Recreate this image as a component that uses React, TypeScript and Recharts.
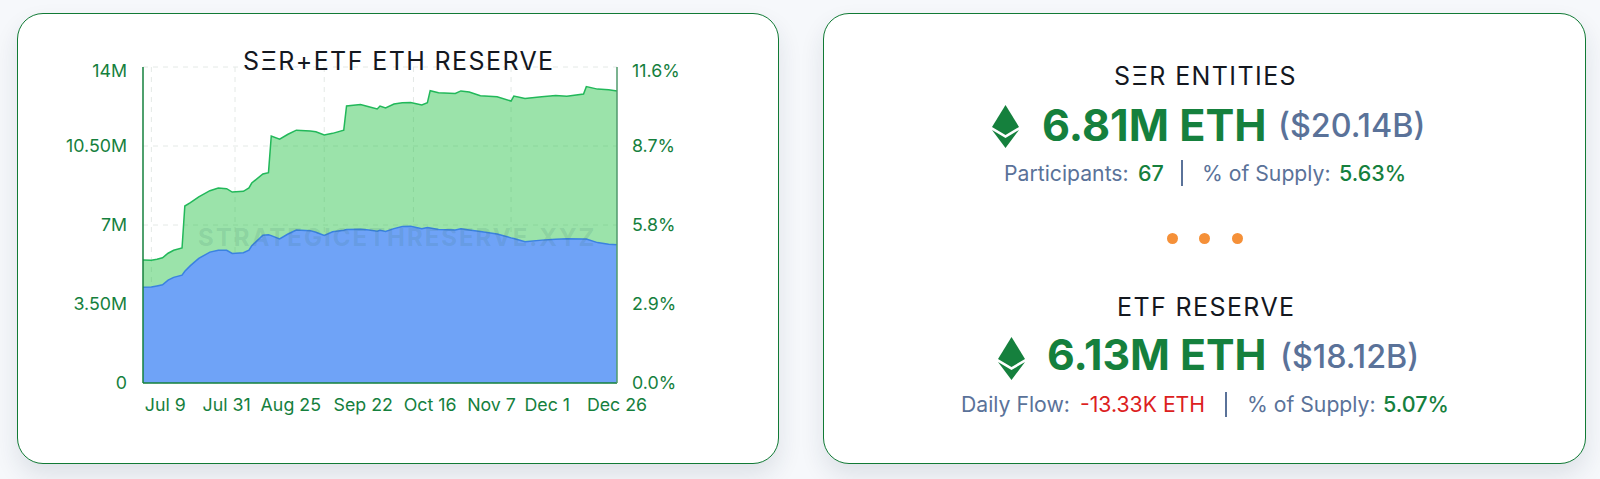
import { AreaChart, Area, XAxis, YAxis, CartesianGrid } from "recharts";

// days since the start of the range (Jul 2 -> Dec 26)
const dayIndex = [
  0, 3, 5, 7, 9, 11, 14, 15, 17, 20, 24, 27, 30, 32, 36, 38, 39, 43, 45, 46, 49, 52, 55, 60, 62, 65, 68, 72, 73, 78,
  81, 84, 85, 87, 90, 93, 96, 100, 102, 103, 106, 112, 114, 117, 121, 127, 132, 133, 137, 143, 148, 152, 158, 159,
  163, 167, 170,
];
// SER + ETF combined, in millions of ETH
const combinedReserve = [
  5.45, 5.44, 5.48, 5.55, 5.75, 5.88, 5.98, 7.84, 7.99, 8.25, 8.52, 8.64, 8.61, 8.46, 8.49, 8.64, 8.86, 9.26, 9.32,
  10.94, 10.8, 11.02, 11.2, 11.16, 11.13, 10.99, 11.06, 11.2, 12.27, 12.34, 12.24, 12.14, 12.27, 12.19, 12.36, 12.42,
  12.43, 12.32, 12.42, 12.95, 12.86, 12.83, 12.94, 12.89, 12.73, 12.68, 12.49, 12.71, 12.61, 12.68, 12.74, 12.7, 12.8,
  13.13, 13.02, 12.99, 12.94,
];
const etfReserve = [
  4.24, 4.25, 4.3, 4.35, 4.56, 4.68, 4.78, 4.95, 5.2, 5.52, 5.8, 5.88, 5.88, 5.74, 5.77, 5.89, 6.08, 6.55, 6.57, 6.53,
  6.38, 6.6, 6.78, 6.75, 6.68, 6.54, 6.7, 6.77, 6.8, 6.81, 6.78, 6.72, 6.77, 6.71, 6.84, 6.93, 6.94, 6.84, 6.89, 6.87,
  6.8, 6.78, 6.83, 6.78, 6.71, 6.6, 6.43, 6.4, 6.26, 6.33, 6.37, 6.39, 6.38, 6.38, 6.22, 6.15, 6.13,
];

const xTickDays = [8, 30, 53, 79, 103, 125, 145, 170];
const xTickLabels = ["Jul 9", "Jul 31", "Aug 25", "Sep 22", "Oct 16", "Nov 7", "Dec 1", "Dec 26"];
const gridDays = [3, 33, 65, 97, 132];
const yTicks = [0, 3.5, 7, 10.5, 14];
const yLabels = ["0", "3.50M", "7M", "10.50M", "14M"];
const pctTicks = [0, 2.9, 5.8, 8.7, 11.6];

const chartData = dayIndex.map((day, i) => ({
  day,
  combined: combinedReserve[i],
  etf: etfReserve[i],
  supplyPct: (combinedReserve[i] / 14) * 11.6, // same curve on the right hand scale
}));

const GREEN = "#15803d";
const SLATE = "#5a7299";
const INK = "#14181f";
const FONT = "Inter, sans-serif";
const TICK_SIZE = 17.8;

// top labels sit a little below their tick in the original
function yTick(top: number, format: (v: number) => string) {
  return ({ x, y, payload, textAnchor }: any) => (
    <text
      x={x}
      y={y + (payload.value === top ? 4 : 0)}
      dy="0.355em"
      textAnchor={textAnchor}
      fill={GREEN}
      fontSize={TICK_SIZE}
      fontFamily={FONT}
    >
      {format(payload.value)}
    </text>
  );
}

function Label({ left, cy, size, color, weight = 400, spacing = 0, children }: any) {
  return (
    <div
      style={{
        position: "absolute",
        left,
        top: cy - 30,
        height: 60,
        lineHeight: "60px",
        fontSize: size,
        fontWeight: weight,
        color,
        letterSpacing: spacing,
        whiteSpace: "nowrap",
        fontFamily: FONT,
      }}
    >
      {children}
    </div>
  );
}

function EthIcon({ left, top }: { left: number; top: number }) {
  return (
    <svg style={{ position: "absolute", left, top }} width={27} height={43} viewBox="0 0 27 43">
      <polygon points="13.5,0 27,22 13.5,30 0,22" fill={GREEN} />
      <polygon points="0,25 13.5,33 27,25 13.5,43" fill={GREEN} />
    </svg>
  );
}

function Divider({ left, top, height }: { left: number; top: number; height: number }) {
  return <div style={{ position: "absolute", left, top, width: 1.5, height, background: SLATE }} />;
}

function Dot({ left }: { left: number }) {
  return (
    <div
      style={{
        position: "absolute",
        left: left - 5.5,
        top: 232.5,
        width: 11,
        height: 11,
        borderRadius: "50%",
        background: "#f59038",
      }}
    />
  );
}

const cardStyle = (left: number, width: number) => ({
  position: "absolute" as const,
  left,
  top: 13,
  width,
  height: 451,
  boxSizing: "border-box" as const,
  background: "#fff",
  border: "1.5px solid #117a35",
  borderRadius: 26,
  boxShadow: "0 12px 24px rgba(30,50,70,0.11)",
});

export default function App() {
  return (
    <div
      style={{
        position: "absolute",
        left: 0,
        top: 0,
        width: 1600,
        height: 479,
        overflow: "hidden",
        background: "#f6f8fb",
      }}
    >
      <div style={cardStyle(17, 762)} />
      <div style={cardStyle(823, 763)} />

      <div style={{ position: "absolute", left: 0, top: 0 }}>
        <AreaChart
          width={780}
          height={479}
          data={chartData}
          margin={{ top: 67, right: 103, bottom: 66, left: 83 }}
        >
          <CartesianGrid stroke="#e4e9e6" strokeDasharray="5 5" verticalValues={gridDays} />
          <XAxis
            dataKey="day"
            type="number"
            domain={[0, 170]}
            ticks={xTickDays}
            interval={0}
            height={30}
            tickSize={0}
            tickMargin={15}
            tickFormatter={(d: number) => xTickLabels[xTickDays.indexOf(d)]}
            axisLine={{ stroke: GREEN, strokeWidth: 1.5 }}
            tick={{ fill: GREEN, fontSize: TICK_SIZE, fontFamily: FONT }}
          />
          <YAxis
            domain={[0, 14]}
            ticks={yTicks}
            interval={0}
            width={60}
            tickSize={0}
            tickMargin={16}
            axisLine={{ stroke: GREEN, strokeWidth: 1.5 }}
            tick={yTick(14, (v) => yLabels[yTicks.indexOf(v)])}
          />
          <YAxis
            yAxisId="pct"
            orientation="right"
            domain={[0, 11.6]}
            ticks={pctTicks}
            interval={0}
            width={60}
            tickSize={0}
            tickMargin={15}
            axisLine={{ stroke: "#4f9a6b", strokeWidth: 1.5 }}
            tick={yTick(11.6, (v) => `${v.toFixed(1)}%`)}
          />
          <Area
            yAxisId="pct"
            dataKey="supplyPct"
            type="linear"
            stroke="none"
            fill="none"
            isAnimationActive={false}
          />
          <Area
            dataKey="combined"
            type="linear"
            stroke="#22b85a"
            strokeWidth={1.5}
            fill="#21c142"
            fillOpacity={0.45}
            isAnimationActive={false}
          />
          <Area
            dataKey="etf"
            type="linear"
            stroke="#3b82e0"
            strokeWidth={1.5}
            fill="#6fa3f7"
            fillOpacity={1}
            isAnimationActive={false}
          />
        </AreaChart>
      </div>

      <div
        style={{
          position: "absolute",
          left: 198,
          top: 223,
          lineHeight: "30px",
          fontSize: 24,
          fontWeight: 700,
          letterSpacing: 2,
          color: "rgba(50,110,100,0.15)",
          fontFamily: FONT,
          whiteSpace: "nowrap",
        }}
      >
        STRATEGICETHRESERVE.XYZ
      </div>

      <Label left={243} cy={61} size={25} color={INK} spacing={1.4}>
        SΞR+ETF ETH RESERVE
      </Label>

      <Label left={1114} cy={76} size={25} color={INK} spacing={1.4}>
        SΞR ENTITIES
      </Label>
      <EthIcon left={992} top={105} />
      <Label left={1042} cy={125} size={43.2} color={GREEN} weight={700}>
        6.81M ETH
      </Label>
      <Label left={1278} cy={126} size={32.3} color={SLATE} weight={500}>
        ($20.14B)
      </Label>
      <Label left={1004} cy={173} size={21.2} color={SLATE}>
        Participants:
      </Label>
      <Label left={1138} cy={173} size={21.5} color={GREEN} weight={500}>
        67
      </Label>
      <Divider left={1181} top={160} height={26} />
      <Label left={1202} cy={173} size={21.2} color={SLATE}>
        % of Supply:
      </Label>
      <Label left={1339} cy={173} size={21.5} color={GREEN} weight={500}>
        5.63%
      </Label>

      <Dot left={1172} />
      <Dot left={1204} />
      <Dot left={1237} />

      <Label left={1117} cy={307} size={25} color={INK} spacing={1.4}>
        ETF RESERVE
      </Label>
      <EthIcon left={998} top={337} />
      <Label left={1047} cy={355} size={42.8} color={GREEN} weight={700}>
        6.13M ETH
      </Label>
      <Label left={1280} cy={357} size={32.3} color={SLATE} weight={500}>
        ($18.12B)
      </Label>
      <Label left={961} cy={404} size={21.2} color={SLATE}>
        Daily Flow:
      </Label>
      <Label left={1080} cy={404} size={21.2} color="#dc2020">
        -13.33K ETH
      </Label>
      <Divider left={1225} top={392} height={25} />
      <Label left={1247} cy={404} size={21.2} color={SLATE}>
        % of Supply:
      </Label>
      <Label left={1383} cy={404} size={21.5} color={GREEN} weight={500}>
        5.07%
      </Label>
    </div>
  );
}
